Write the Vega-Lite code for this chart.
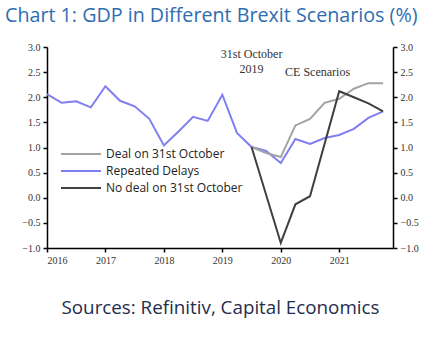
{
  "$schema": "https://vega.github.io/schema/vega-lite/v6.json",
  "width": 346,
  "height": 201,
  "autosize": {"type": "none"},
  "padding": {"left": 47, "top": 47, "right": 42, "bottom": 89},
  "background": "white",
  "title": {
    "text": "Chart 1: GDP in Different Brexit Scenarios (%)",
    "anchor": "start",
    "frame": "group",
    "dx": -42,
    "offset": 16,
    "font": "Open Sans",
    "fontSize": 19.7,
    "fontWeight": "normal",
    "color": "#2f6db0"
  },
  "config": {
    "view": {"stroke": null},
    "axis": {
      "grid": false,
      "domainColor": "black",
      "domainWidth": 1.5,
      "tickColor": "black",
      "tickWidth": 1.5,
      "tickSize": 4,
      "labelFont": "Liberation Serif",
      "labelFontSize": 10,
      "labelColor": "#333333",
      "labelPadding": 3
    }
  },
  "datasets": {
    "gdp": [
      {"series": "Repeated Delays", "t": 2016.0, "v": 2.06},
      {"series": "Repeated Delays", "t": 2016.25, "v": 1.89},
      {"series": "Repeated Delays", "t": 2016.5, "v": 1.92},
      {"series": "Repeated Delays", "t": 2016.75, "v": 1.80},
      {"series": "Repeated Delays", "t": 2017.0, "v": 2.22},
      {"series": "Repeated Delays", "t": 2017.25, "v": 1.93},
      {"series": "Repeated Delays", "t": 2017.5, "v": 1.82},
      {"series": "Repeated Delays", "t": 2017.75, "v": 1.57},
      {"series": "Repeated Delays", "t": 2018.0, "v": 1.04},
      {"series": "Repeated Delays", "t": 2018.25, "v": 1.32},
      {"series": "Repeated Delays", "t": 2018.5, "v": 1.61},
      {"series": "Repeated Delays", "t": 2018.75, "v": 1.53},
      {"series": "Repeated Delays", "t": 2019.0, "v": 2.05},
      {"series": "Repeated Delays", "t": 2019.25, "v": 1.29},
      {"series": "Repeated Delays", "t": 2019.5, "v": 1.01},
      {"series": "Repeated Delays", "t": 2019.75, "v": 0.93},
      {"series": "Repeated Delays", "t": 2020.0, "v": 0.69},
      {"series": "Repeated Delays", "t": 2020.25, "v": 1.17},
      {"series": "Repeated Delays", "t": 2020.5, "v": 1.07},
      {"series": "Repeated Delays", "t": 2020.75, "v": 1.19},
      {"series": "Repeated Delays", "t": 2021.0, "v": 1.25},
      {"series": "Repeated Delays", "t": 2021.25, "v": 1.37},
      {"series": "Repeated Delays", "t": 2021.5, "v": 1.59},
      {"series": "Repeated Delays", "t": 2021.75, "v": 1.72},
      {"series": "Deal on 31st October", "t": 2019.5, "v": 1.01},
      {"series": "Deal on 31st October", "t": 2019.75, "v": 0.89},
      {"series": "Deal on 31st October", "t": 2020.0, "v": 0.81},
      {"series": "Deal on 31st October", "t": 2020.25, "v": 1.44},
      {"series": "Deal on 31st October", "t": 2020.5, "v": 1.57},
      {"series": "Deal on 31st October", "t": 2020.75, "v": 1.89},
      {"series": "Deal on 31st October", "t": 2021.0, "v": 1.97},
      {"series": "Deal on 31st October", "t": 2021.25, "v": 2.17},
      {"series": "Deal on 31st October", "t": 2021.5, "v": 2.28},
      {"series": "Deal on 31st October", "t": 2021.75, "v": 2.28},
      {"series": "No deal on 31st October", "t": 2019.5, "v": 1.01},
      {"series": "No deal on 31st October", "t": 2020.0, "v": -0.90},
      {"series": "No deal on 31st October", "t": 2020.25, "v": -0.13},
      {"series": "No deal on 31st October", "t": 2020.5, "v": 0.03},
      {"series": "No deal on 31st October", "t": 2021.0, "v": 2.12},
      {"series": "No deal on 31st October", "t": 2021.25, "v": 2.00},
      {"series": "No deal on 31st October", "t": 2021.5, "v": 1.88},
      {"series": "No deal on 31st October", "t": 2021.75, "v": 1.72}
    ],
    "notes": [
      {"label": "31st October", "t": 2019.5, "v": 2.86},
      {"label": "2019", "t": 2019.5, "v": 2.57},
      {"label": "CE Scenarios", "t": 2020.63, "v": 2.5}
    ]
  },
  "resolve": {"axis": {"y": "independent"}},
  "layer": [
    {
      "mark": {"type": "rule", "color": "black", "strokeWidth": 1.5},
      "encoding": {
        "y": {
          "datum": 0,
          "type": "quantitative",
          "title": "",
          "scale": {"domain": [-1, 3], "nice": false, "zero": false},
          "axis": {"orient": "right", "title": "", "values": [-1, -0.5, 0, 0.5, 1, 1.5, 2, 2.5, 3], "format": ".1f"}
        }
      }
    },
    {
      "mark": {"type": "rule", "color": "black", "strokeWidth": 2, "strokeDash": [6, 4]},
      "encoding": {
        "x": {"datum": 2019.5, "type": "quantitative"},
        "y": {"datum": 2.36, "type": "quantitative", "axis": null},
        "y2": {"datum": -1}
      }
    },
    {
      "data": {"name": "gdp"},
      "mark": {"type": "line", "strokeWidth": 2},
      "encoding": {
        "x": {
          "field": "t",
          "type": "quantitative",
          "scale": {"domain": [2016, 2021.92], "nice": false, "zero": false},
          "axis": {
            "values": [2016, 2017, 2018, 2019, 2020, 2021],
            "format": "d",
            "title": "Sources: Refinitiv, Capital Economics",
            "titleFont": "Open Sans",
            "titleFontSize": 18.8,
            "titleFontWeight": "normal",
            "titleColor": "#1f2d4d",
            "titlePadding": 33
          }
        },
        "y": {
          "field": "v",
          "type": "quantitative",
          "title": "",
          "scale": {"domain": [-1, 3], "nice": false, "zero": false},
          "axis": {"orient": "left", "title": "", "values": [-1, -0.5, 0, 0.5, 1, 1.5, 2, 2.5, 3], "format": ".1f"}
        },
        "color": {
          "field": "series",
          "type": "nominal",
          "scale": {
            "domain": ["Deal on 31st October", "Repeated Delays", "No deal on 31st October"],
            "range": ["#a3a3a3", "#7f7ff2", "#404040"]
          },
          "legend": {
            "title": null,
            "orient": "none",
            "legendX": 28,
            "legendY": 101,
            "symbolType": "M-4,0L4,0",
            "symbolSize": 100,
            "symbolStrokeWidth": 2,
            "labelFont": "Open Sans",
            "labelFontSize": 12,
            "labelColor": "#222222",
            "rowPadding": 5,
            "labelOffset": 19
          }
        }
      }
    },
    {
      "data": {"name": "notes"},
      "mark": {"type": "text", "font": "Liberation Serif", "fontSize": 12, "color": "#333333"},
      "encoding": {
        "x": {"field": "t", "type": "quantitative"},
        "y": {"field": "v", "type": "quantitative", "axis": null},
        "text": {"field": "label"}
      }
    }
  ]
}
